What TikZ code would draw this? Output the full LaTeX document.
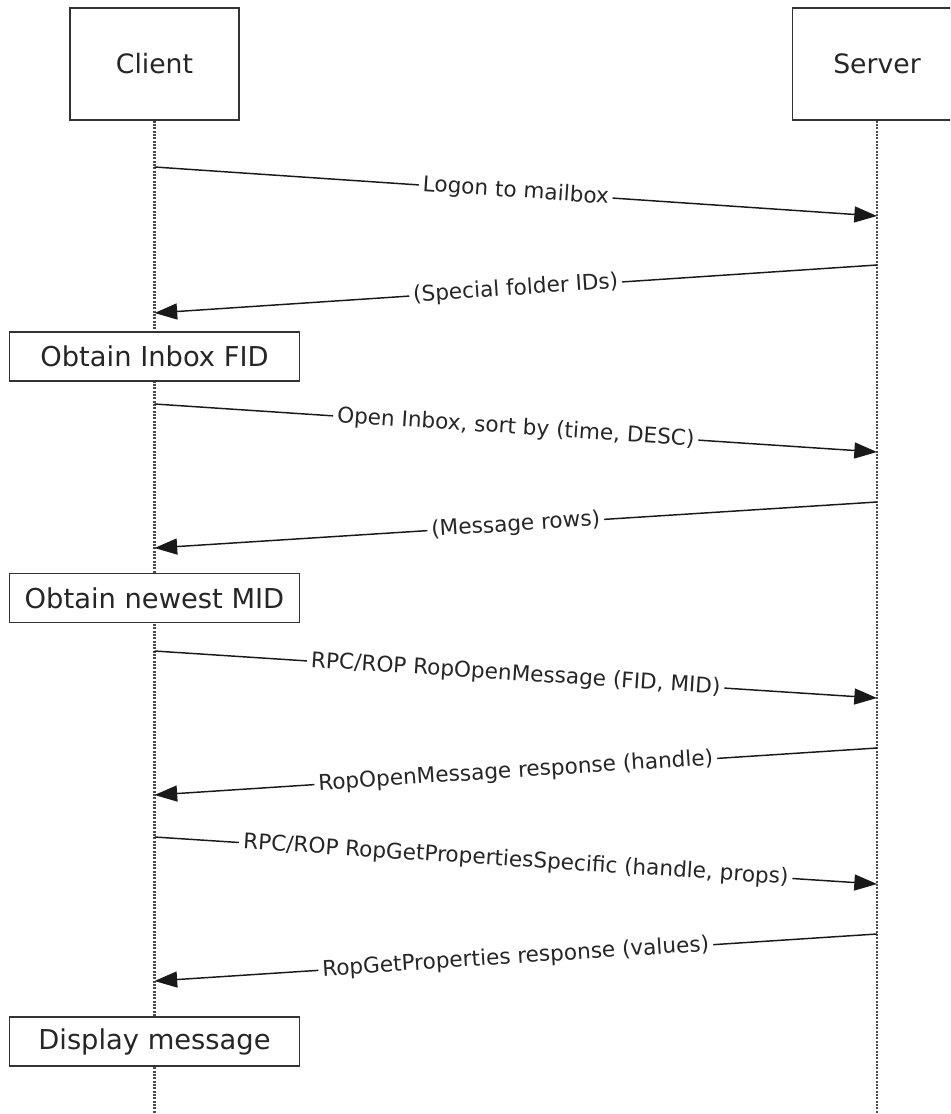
\documentclass[tikz,border=0pt]{standalone}
\usepackage{fontspec}
\setmainfont{DejaVu Sans}
\usetikzlibrary{arrows.meta}

\begin{document}
\begin{tikzpicture}[x=0.75pt, y=-0.75pt, >={Triangle[length=17pt, width=12pt]},
    actor/.style={draw=black!80, fill=white, line width=1.2pt, minimum width=126.75pt, minimum height=84pt, font=\fontsize{20}{24}\selectfont, text=black!85},
    act/.style={draw=black!80, fill=white, line width=1.2pt, minimum width=217.5pt, minimum height=36.75pt, font=\fontsize{20.5}{24}\selectfont, text=black!85},
    life/.style={black!70, line width=1.6pt, dash pattern=on 1.3pt off 1.2pt},
    msg/.style={->, line width=1.1pt, black!90},
    lbl/.style={sloped, fill=white, inner sep=3pt, font=\fontsize{16.2}{19}\selectfont, text=black!85}]
        \clip (0,0) rectangle (950,1114);

        \node[actor] (client) at (154.5,64) {Client};
        \node[actor] (server) at (877,64) {Server};
        \coordinate (cend) at (154.5,1114);
        \coordinate (send) at (877,1114);

        \draw[life] (client.south) -- (cend);
        \draw[life] (server.south) -- (send);

        % end points on the lifelines
        \coordinate (c1) at (154.5,167);  \coordinate (s1) at (877,216);
        \coordinate (s2) at (877,265);    \coordinate (c2) at (154.5,313);
        \coordinate (c3) at (154.5,404);  \coordinate (s3) at (877,452);
        \coordinate (s4) at (877,502);    \coordinate (c4) at (154.5,548);
        \coordinate (c5) at (154.5,651);  \coordinate (s5) at (877,698);
        \coordinate (s6) at (877,748);    \coordinate (c6) at (154.5,795);
        \coordinate (c7) at (154.5,837);  \coordinate (s7) at (877,884);
        \coordinate (s8) at (877,934);    \coordinate (c8) at (154.5,981);

        \node[act] (fid) at (154.5,356.5) {Obtain Inbox FID};
        \node[act] (mid) at (154.5,598) {Obtain newest MID};
        \node[act] (show) at (154.5,1041.5) {Display message};

        \draw[msg] (c1) -- node[lbl] {Logon to mailbox} (s1);
        \draw[msg] (s2) -- node[lbl] {(Special folder IDs)} (c2);
        \draw[msg] (c3) -- node[lbl] {Open Inbox, sort by (time, DESC)} (s3);
        \draw[msg] (s4) -- node[lbl] {(Message rows)} (c4);
        \draw[msg] (c5) -- node[lbl] {RPC/ROP RopOpenMessage (FID, MID)} (s5);
        \draw[msg] (s6) -- node[lbl] {RopOpenMessage response (handle)} (c6);
        \draw[msg] (c7) -- node[lbl] {RPC/ROP RopGetPropertiesSpecific (handle, props)} (s7);
        \draw[msg] (s8) -- node[lbl] {RopGetProperties response (values)} (c8);
    \end{tikzpicture}
\end{document}
